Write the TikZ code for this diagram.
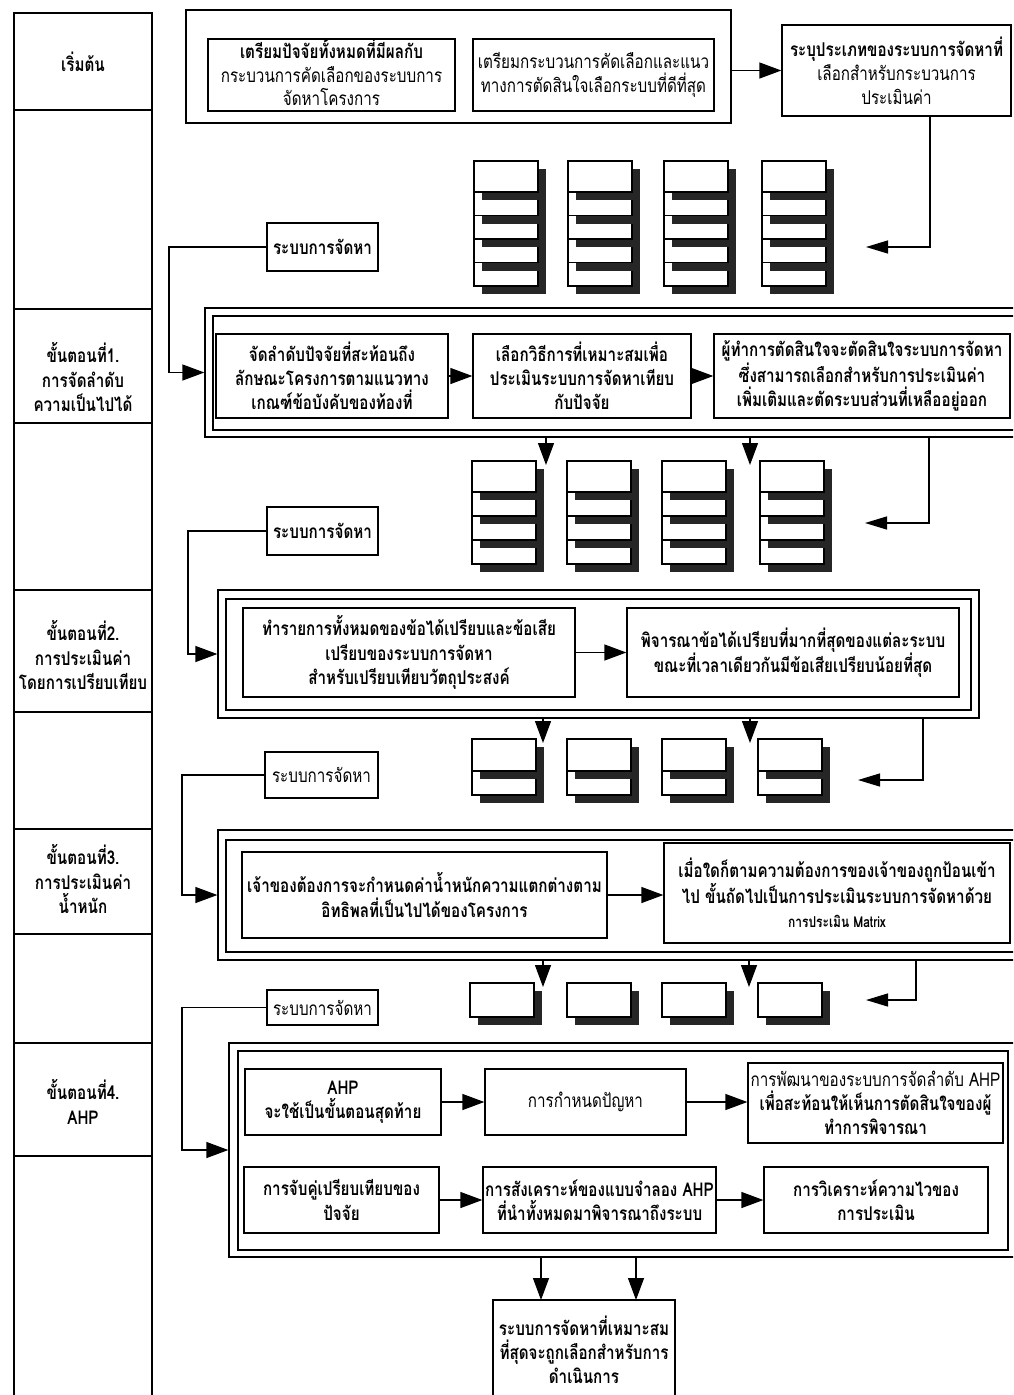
\documentclass[tikz,border=0pt]{standalone}
\usepackage{fontspec}
\usetikzlibrary{arrows.meta,calc}
\newfontfamily\thai[Script=Thai,FakeStretch=0.8]{Loma}
\newcommand\cardstack[5]{% x0, y0, last index, card height, step
  \foreach \k in {#3,...,0}{%
    \fill[cshadow] ({#1+8},{#2+\k*#5+8}) rectangle ++(64,#4);
    \draw[card] (#1,{#2+\k*#5}) rectangle ++(64,#4);
  }}
\begin{document}
\begin{tikzpicture}[x=1pt,y=-1pt,
  lane/.style={draw, line width=1.3pt, minimum width=138pt, inner sep=0pt},
  lanetxt/.style={inner sep=0pt, align=center, font=\thai\bfseries\fontsize{19}{24.5}\selectfont},
  tbox/.style={draw, line width=1.3pt, fill=white, inner sep=0pt, align=center,
    font=\thai\bfseries\fontsize{19}{24.2}\selectfont},
  grp/.style={draw, line width=1.3pt, inner sep=0pt},
  ln/.style={line width=1.3pt},
  arr/.style={line width=1.3pt, -{Triangle[length=22pt,width=16pt]}},
  larr/.style={line width=1.3pt, -{Triangle[length=22pt,width=13pt]}},
  card/.style={draw, line width=1.1pt, fill=white},
  cshadow/.style={fill=black!85}]
\useasboundingbox (0,0) rectangle (1013,1395);
\clip (0,0) rectangle (1013,1395);
\fill[white] (0,0) rectangle (1013,1395);

% ---------- left lanes ----------
\node[lane, minimum height=97pt]  (lane0) at (83,61.5)  {};
\node[lane, minimum height=199pt] (lane1) at (83,209.5) {};
\node[lane, minimum height=114pt] (lane2) at (83,366)   {};
\node[lane, minimum height=167pt] (lane3) at (83,506.5) {};
\node[lane, minimum height=122pt] (lane4) at (83,651)   {};
\node[lane, minimum height=117pt] (lane5) at (83,770.5) {};
\node[lane, minimum height=105pt] (lane6) at (83,881.5) {};
\node[lane, minimum height=109pt] (lane7) at (83,988.5) {};
\node[lane, minimum height=113pt] (lane8) at (83,1099.5){};
\node[lane, minimum height=244pt] (lane9) at (83,1278)  {};
\node[lanetxt] (lt0) at (83,62)   {เริ่มต้น};
\node[lanetxt] (lt1) at (83,377)  {ขั้นตอนที่1.\\การจัดลำดับ\\ความเป็นไปได้};
\node[lanetxt] (lt2) at (83,655)  {ขั้นตอนที่2.\\การประเมินค่า\\โดยการเปรียบเทียบ};
\node[lanetxt] (lt3) at (83,879)  {ขั้นตอนที่3.\\การประเมินค่า\\น้ำหนัก};
\node[lanetxt] (lt4) at (83,1102) {ขั้นตอนที่4.\\AHP};

% ---------- group frames ----------
\node[grp, minimum width=545pt, minimum height=113pt] (g0) at (458.5,66.5) {};
\node[grp, minimum width=820pt, minimum height=129pt] (g1) at (615,372.5) {};
\draw[ln] (213,316) rectangle (1025,430);
\node[grp, minimum width=761pt, minimum height=128pt] (g2) at (598.5,654) {};
\draw[ln] (226,599) rectangle (971,710);
\node[grp, minimum width=807pt, minimum height=130pt] (g3) at (621.5,895) {};
\draw[ln] (226,840) rectangle (1025,952);
\node[grp, minimum width=796pt, minimum height=214pt] (g4) at (627,1150) {};
\draw[ln] (238,1051) rectangle (1008,1250);

% ---------- card stacks ----------
\cardstack{474}{161}{4}{31}{23.5}
\cardstack{568}{161}{4}{31}{23.5}
\cardstack{664}{161}{4}{31}{23.5}
\cardstack{762}{161}{4}{31}{23.5}

\cardstack{472}{461}{3}{31}{24}
\cardstack{567}{461}{3}{31}{24}
\cardstack{662}{461}{3}{31}{24}
\cardstack{760}{461}{3}{31}{24}

\cardstack{472}{739}{1}{32}{24}
\cardstack{567}{739}{1}{32}{24}
\cardstack{662}{739}{1}{32}{24}
\cardstack{758}{739}{1}{32}{24}

\cardstack{470}{983}{0}{34}{0}
\cardstack{567}{983}{0}{34}{0}
\cardstack{662}{983}{0}{34}{0}
\cardstack{758}{983}{0}{34}{0}

% ---------- start row ----------
\node[tbox, minimum width=247pt, minimum height=72pt] (A) at (331.5,75) {};
\node[tbox, draw=none, fill=none, font=\thai\bfseries\fontsize{19}{23.5}\selectfont] (At) at (331.5,72)
  {เตรียมปัจจัยทั้งหมดที่มีผลกับ\\\mdseries กระบวนการคัดเลือกของระบบการ\\\mdseries จัดหาโครงการ};
\node[tbox, minimum width=241pt, minimum height=72pt] (B) at (593.5,75)
  {\mdseries เตรียมกระบวนการคัดเลือกและแนว\\\mdseries ทางการตัดสินใจเลือกระบบที่ดีที่สุด};
\node[tbox, minimum width=229pt, minimum height=91pt] (C) at (896.5,70.5)
  {ระบุประเภทของระบบการจัดหาที่\\\mdseries เลือกสำหรับกระบวนการ\\\mdseries ประเมินค่า};

% ---------- system boxes ----------
\node[tbox, minimum width=111pt, minimum height=48pt] (sys1) at (322.5,247) {ระบบการจัดหา};
\node[tbox, minimum width=111pt, minimum height=48pt] (sys2) at (322.5,531) {ระบบการจัดหา};
\node[tbox, minimum width=113pt, minimum height=46pt] (sys3) at (321.5,775) {\mdseries ระบบการจัดหา};
\node[tbox, minimum width=111pt, minimum height=35pt] (sys4) at (322.5,1007.5) {\mdseries ระบบการจัดหา};

% ---------- step 1 ----------
\node[tbox, minimum width=232pt, minimum height=84pt] (D) at (332,376)
  {จัดลำดับปัจจัยที่สะท้อนถึง\\ลักษณะโครงการตามแนวทาง\\เกณฑ์ข้อบังคับของท้องที่};
\node[tbox, minimum width=218pt, minimum height=84pt] (E) at (582,376)
  {เลือกวิธีการที่เหมาะสมเพื่อ\\ประเมินระบบการจัดหาเทียบ\\กับปัจจัย};
\node[tbox, minimum width=296pt, minimum height=84pt] (F) at (862,376)
  {ผู้ทำการตัดสินใจจะตัดสินใจระบบการจัดหา\\ซึ่งสามารถเลือกสำหรับการประเมินค่า\\เพิ่มเติมและตัดระบบส่วนที่เหลืออยู่ออก};

% ---------- step 2 ----------
\node[tbox, minimum width=332pt, minimum height=89pt] (G) at (409,652.5)
  {ทำรายการทั้งหมดของข้อได้เปรียบและข้อเสีย\\เปรียบของระบบการจัดหา\\สำหรับเปรียบเทียบวัตถุประสงค์};
\node[tbox, minimum width=332pt, minimum height=89pt] (H) at (793,652.5)
  {พิจารณาข้อได้เปรียบที่มากที่สุดของแต่ละระบบ\\ขณะที่เวลาเดียวกันมีข้อเสียเปรียบน้อยที่สุด};

% ---------- step 3 ----------
\node[tbox, minimum width=365pt, minimum height=86pt] (I) at (424.5,895)
  {เจ้าของต้องการจะกำหนดค่าน้ำหนักความแตกต่างตาม\\อิทธิพลที่เป็นไปได้ของโครงการ};
\node[tbox, minimum width=346pt, minimum height=100pt] (J) at (837,893)
  {เมื่อใดก็ตามความต้องการของเจ้าของถูกป้อนเข้า\\ไป ขั้นถัดไปเป็นการประเมินระบบการจัดหาด้วย\\{\fontsize{15}{24.2}\selectfont การประเมิน Matrix}};

% ---------- step 4 ----------
\node[tbox, minimum width=196pt, minimum height=66pt] (K) at (343,1102)
  {AHP\\จะใช้เป็นขั้นตอนสุดท้าย};
\node[tbox, minimum width=201pt, minimum height=66pt] (L) at (585.5,1102)
  {\mdseries การกำหนดปัญหา};
\node[tbox, minimum width=255pt, minimum height=80pt] (M) at (875.5,1103)
  {\mdseries การพัฒนาของระบบการจัดลำดับ AHP\\เพื่อสะท้อนให้เห็นการตัดสินใจของผู้\\ทำการพิจารณา};
\node[tbox, minimum width=195pt, minimum height=66pt] (N) at (341.5,1200)
  {การจับคู่เปรียบเทียบของ\\ปัจจัย};
\node[tbox, minimum width=233pt, minimum height=66pt] (O) at (599.5,1200)
  {การสังเคราะห์ของแบบจำลอง AHP\\ที่นำทั้งหมดมาพิจารณาถึงระบบ};
\node[tbox, minimum width=224pt, minimum height=66pt] (P) at (876,1200)
  {การวิเคราะห์ความไวของ\\การประเมิน};
\node[tbox, minimum width=182pt, minimum height=100pt] (Q) at (584,1350)
  {ระบบการจัดหาที่เหมาะสม\\ที่สุดจะถูกเลือกสำหรับการ\\ดำเนินการ};

% ---------- connectors ----------
\draw[arr] (C.west -| g0.east) -- (C.west);
\draw[arr] (D) -- (E);
\draw[arr] (E) -- (F);
\draw[arr] (G) -- (H);
\draw[arr] (I.east) -- (J.west |- I.east);
\draw[arr] (K) -- (L);
\draw[arr] (L.east) -- (M.west |- L.east);
\draw[arr] (N) -- (O);
\draw[arr] (O) -- (P);

% right-side returns
\coordinate (r1) at (930,247);  \coordinate (t1) at (866,247);
\coordinate (r2) at (929,523);  \coordinate (t2) at (865,523);
\coordinate (r3) at (923,780);  \coordinate (t3) at (858,780);
\coordinate (r4) at (916,1000); \coordinate (t4) at (866,1000);
\draw[larr] (C.south -| r1) -- (r1) -- (t1);
\draw[larr] (g1.south -| r2) -- (r2) -- (t2);
\draw[larr] (g2.south -| r3) -- (r3) -- (t3);
\draw[larr] (g3.south -| r4) -- (r4) -- (t4);

% left-side feeds
\coordinate (l1) at (169,247);
\coordinate (l2) at (188,531);
\coordinate (l3) at (182,775);
\coordinate (l4) at (182,1007.5);
\draw[arr] (sys1.west) -- (l1) |- (g1.west);
\draw[arr] (sys2.west) -- (l2) |- (g2.west);
\draw[arr] (sys3.west) -- (l3) |- (g3.west);
\draw[arr] (sys4.west) -- (l4) |- (g4.west);

% down arrows onto stacks
\coordinate (d1a) at (546,465); \coordinate (d1b) at (750,465);
\coordinate (d2a) at (543,743); \coordinate (d2b) at (750,743);
\coordinate (d3a) at (543,987); \coordinate (d3b) at (749,987);
\draw[arr] (g1.south -| d1a) -- (d1a);
\draw[arr] (g1.south -| d1b) -- (d1b);
\draw[arr] (g2.south -| d2a) -- (d2a);
\draw[arr] (g2.south -| d2b) -- (d2b);
\draw[arr] (g3.south -| d3a) -- (d3a);
\draw[arr] (g3.south -| d3b) -- (d3b);

% final
\coordinate (q1) at (541,1300); \coordinate (q2) at (636,1300);
\draw[arr] (g4.south -| q1) -- (q1);
\draw[arr] (g4.south -| q2) -- (q2);
\end{tikzpicture}
\end{document}
